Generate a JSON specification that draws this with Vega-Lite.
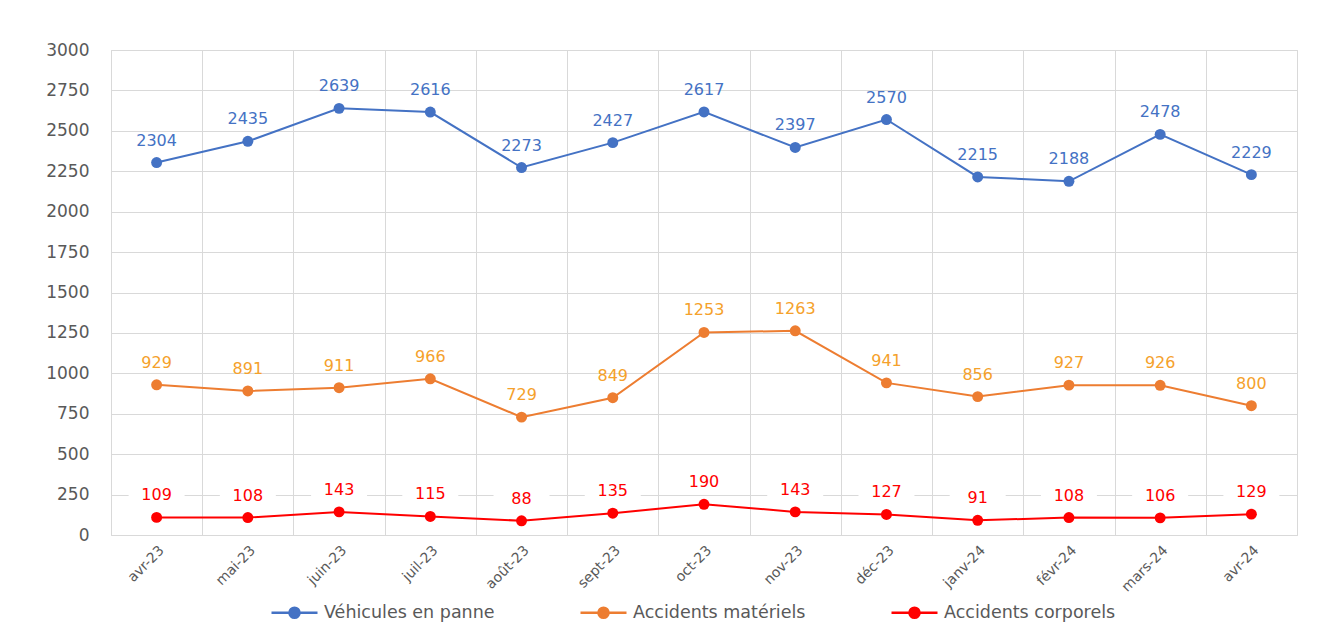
{
  "$schema": "https://vega.github.io/schema/vega-lite/v6.json",
  "width": 1186,
  "height": 485,
  "autosize": "none",
  "padding": {"left": 111, "top": 50, "right": 22, "bottom": 93},
  "background": "white",
  "config": {
    "font": "DejaVu Sans",
    "view": {"stroke": "#d9d9d9", "strokeWidth": 1}
  },
  "data": {
    "values": [
      {"month": "avr-23", "series": "Véhicules en panne", "value": 2304},
      {"month": "mai-23", "series": "Véhicules en panne", "value": 2435},
      {"month": "juin-23", "series": "Véhicules en panne", "value": 2639},
      {"month": "juil-23", "series": "Véhicules en panne", "value": 2616},
      {"month": "août-23", "series": "Véhicules en panne", "value": 2273},
      {"month": "sept-23", "series": "Véhicules en panne", "value": 2427},
      {"month": "oct-23", "series": "Véhicules en panne", "value": 2617},
      {"month": "nov-23", "series": "Véhicules en panne", "value": 2397},
      {"month": "déc-23", "series": "Véhicules en panne", "value": 2570},
      {"month": "janv-24", "series": "Véhicules en panne", "value": 2215},
      {"month": "févr-24", "series": "Véhicules en panne", "value": 2188},
      {"month": "mars-24", "series": "Véhicules en panne", "value": 2478},
      {"month": "avr-24", "series": "Véhicules en panne", "value": 2229},
      {"month": "avr-23", "series": "Accidents matériels", "value": 929},
      {"month": "mai-23", "series": "Accidents matériels", "value": 891},
      {"month": "juin-23", "series": "Accidents matériels", "value": 911},
      {"month": "juil-23", "series": "Accidents matériels", "value": 966},
      {"month": "août-23", "series": "Accidents matériels", "value": 729},
      {"month": "sept-23", "series": "Accidents matériels", "value": 849},
      {"month": "oct-23", "series": "Accidents matériels", "value": 1253},
      {"month": "nov-23", "series": "Accidents matériels", "value": 1263},
      {"month": "déc-23", "series": "Accidents matériels", "value": 941},
      {"month": "janv-24", "series": "Accidents matériels", "value": 856},
      {"month": "févr-24", "series": "Accidents matériels", "value": 927},
      {"month": "mars-24", "series": "Accidents matériels", "value": 926},
      {"month": "avr-24", "series": "Accidents matériels", "value": 800},
      {"month": "avr-23", "series": "Accidents corporels", "value": 109},
      {"month": "mai-23", "series": "Accidents corporels", "value": 108},
      {"month": "juin-23", "series": "Accidents corporels", "value": 143},
      {"month": "juil-23", "series": "Accidents corporels", "value": 115},
      {"month": "août-23", "series": "Accidents corporels", "value": 88},
      {"month": "sept-23", "series": "Accidents corporels", "value": 135},
      {"month": "oct-23", "series": "Accidents corporels", "value": 190},
      {"month": "nov-23", "series": "Accidents corporels", "value": 143},
      {"month": "déc-23", "series": "Accidents corporels", "value": 127},
      {"month": "janv-24", "series": "Accidents corporels", "value": 91},
      {"month": "févr-24", "series": "Accidents corporels", "value": 108},
      {"month": "mars-24", "series": "Accidents corporels", "value": 106},
      {"month": "avr-24", "series": "Accidents corporels", "value": 129}
    ]
  },
  "encoding": {
    "x": {
      "field": "month",
      "type": "ordinal",
      "sort": null,
      "scale": {"type": "band", "paddingInner": 0, "paddingOuter": 0},
      "axis": {
        "title": null,
        "labelAngle": -45,
        "labelFontSize": 14,
        "labelColor": "#595959",
        "labelPadding": 8,
        "ticks": false,
        "domain": false,
        "grid": true,
        "tickBand": "extent",
        "gridColor": "#d9d9d9",
        "gridWidth": 1
      }
    },
    "y": {
      "field": "value",
      "type": "quantitative",
      "scale": {"domain": [0, 3000], "nice": false},
      "axis": {
        "title": null,
        "format": "d",
        "values": [0, 250, 500, 750, 1000, 1250, 1500, 1750, 2000, 2250, 2500, 2750, 3000],
        "labelFontSize": 17,
        "labelColor": "#595959",
        "labelPadding": 22,
        "ticks": false,
        "domain": false,
        "grid": true,
        "gridColor": "#d9d9d9",
        "gridWidth": 1
      }
    }
  },
  "layer": [
    {
      "transform": [{"filter": "datum.series === 'Accidents corporels'"}],
      "mark": {
        "type": "point",
        "shape": "M-1,-0.4H1V0.4H-1Z",
        "filled": true,
        "color": "white",
        "opacity": 1,
        "size": 3136,
        "yOffset": -22
      },
      "encoding": {}
    },
    {
      "mark": {
        "type": "line",
        "strokeWidth": 2,
        "point": {"filled": true, "opacity": 1, "size": 120}
      },
      "encoding": {
        "color": {
          "field": "series",
          "type": "nominal",
          "scale": {
            "domain": ["Véhicules en panne", "Accidents matériels", "Accidents corporels"],
            "range": ["#4472C4", "#ED7D31", "#FF0000"]
          },
          "legend": {
            "title": null,
            "orient": "none",
            "legendX": 159,
            "legendY": 538,
            "direction": "horizontal",
            "labelFontSize": 17.5,
            "labelLimit": 400,
            "labelColor": "#595959",
            "labelOffset": 5,
            "columnPadding": 80,
            "symbolType": "M-1,0H1M0.22,0A0.22,0.22,0,1,1,-0.22,0A0.22,0.22,0,1,1,0.22,0Z",
            "symbolSize": 2116,
            "symbolStrokeWidth": 2.5,
            "encode": {
              "symbols": {"update": {"fill": {"scale": "color", "field": "value"}, "opacity": {"value": 1}}}
            }
          }
        }
      }
    },
    {
      "transform": [{"filter": "datum.series === 'Véhicules en panne'"}],
      "mark": {"type": "text", "dy": -22, "fontSize": 16, "baseline": "middle", "color": "#4472C4"},
      "encoding": {"text": {"field": "value", "type": "quantitative"}}
    },
    {
      "transform": [{"filter": "datum.series === 'Accidents matériels'"}],
      "mark": {"type": "text", "dy": -22, "fontSize": 16, "baseline": "middle", "color": "#F5A12B"},
      "encoding": {"text": {"field": "value", "type": "quantitative"}}
    },
    {
      "transform": [{"filter": "datum.series === 'Accidents corporels'"}],
      "mark": {"type": "text", "dy": -22, "fontSize": 16, "baseline": "middle", "color": "#FF0000"},
      "encoding": {"text": {"field": "value", "type": "quantitative"}}
    }
  ]
}
